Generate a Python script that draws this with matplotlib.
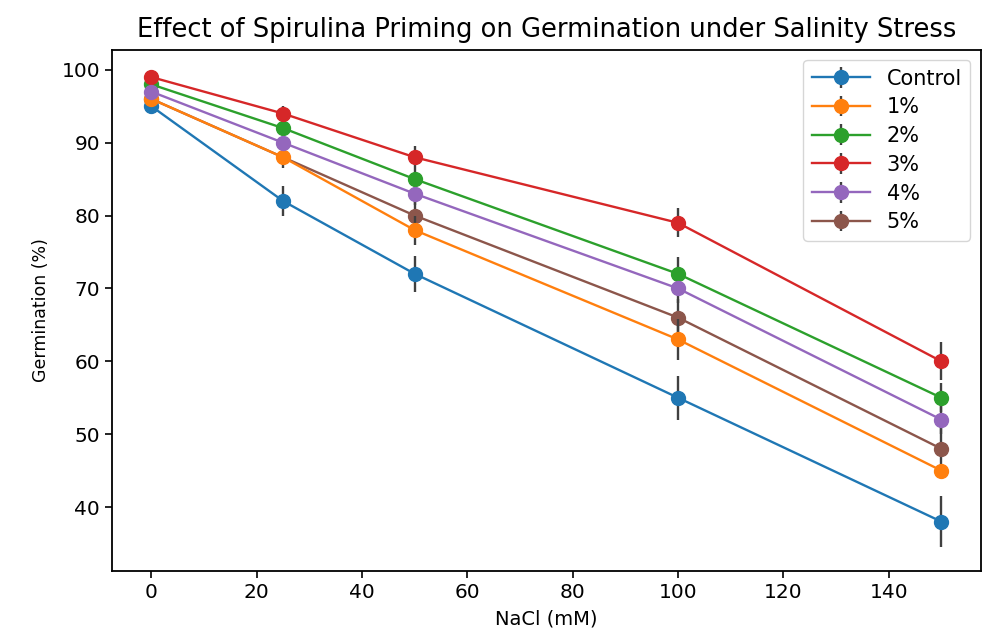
import matplotlib
matplotlib.use("Agg")
import matplotlib.pyplot as plt

nacl = [0, 25, 50, 100, 150]
nacl_5 = [0, 50, 100, 150]

series_names = ["Control", "1%", "2%", "3%", "4%", "5%"]
control = [95, 82, 72, 55, 38]
p1 = [96, 88, 78, 63, 45]
p2 = [98, 92, 85, 72, 55]
p3 = [99, 94, 88, 79, 60]
p4 = [97, 90, 83, 70, 52]
p5 = [96, 80, 66, 48]

err_control = [1, 2, 2.5, 3, 3.5]
err_p1 = [1, 1.5, 2, 2.8, 0.8]
err_p2 = [0.5, 1, 1.5, 2.3, 2]
err_p3 = [0.5, 1, 1.5, 2, 2.6]
err_p4 = [0.5, 1, 1.5, 2, 2]
err_p5 = [1, 2, 2.5, 3]

xs = [nacl, nacl, nacl, nacl, nacl, nacl_5]
ys = [control, p1, p2, p3, p4, p5]
errs = [err_control, err_p1, err_p2, err_p3, err_p4, err_p5]
colors = ["#1f77b4", "#ff7f0e", "#2ca02c", "#d62728", "#9467bd", "#8c564b"]
zorders = [2, 2, 2, 2, 2, 1.5]

fig = plt.figure(figsize=(10.08, 6.3), dpi=100)
ax = fig.add_axes([0.111, 0.094, 0.862, 0.827])

for x, y, e, name, c, z in zip(xs, ys, errs, series_names, colors, zorders):
    ax.errorbar(x, y, yerr=e, label=name, color=c, marker="o", markersize=10,
                linewidth=1.7, ecolor="#404040", elinewidth=1.7, zorder=z)

ax.set_title("Effect of Spirulina Priming on Germination under Salinity Stress",
             fontsize=18.5, pad=9)
ax.set_xlabel("NaCl (mM)", fontsize=14, labelpad=6)
ax.set_ylabel("Germination (%)", fontsize=12.5, labelpad=8)
ax.tick_params(labelsize=14.5, width=1.2, length=5)
for s in ax.spines.values():
    s.set_linewidth(1.3)

ax.legend(loc="upper right", fontsize=15, handlelength=2.8, labelspacing=0.42)

fig.savefig("out.png", dpi=100)
